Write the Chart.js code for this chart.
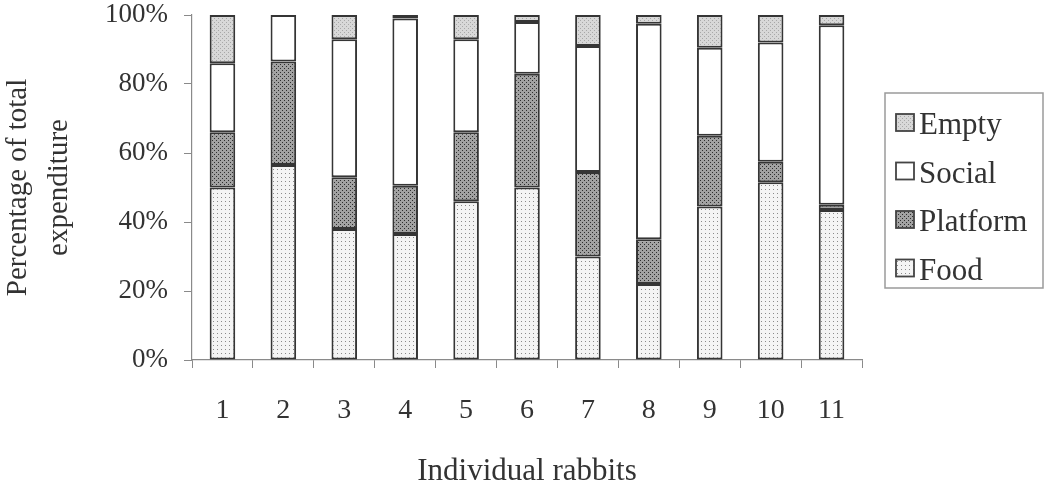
<!DOCTYPE html>
<html>
<head>
<meta charset="utf-8">
<script src="https://cdn.jsdelivr.net/npm/chart.js@4"></script>
<style>
  html,body{margin:0;padding:0;background:#fff;}
  #wrap{width:1046px;height:487px;position:relative;}
</style>
</head>
<body>
<div id="wrap"><canvas id="chart" width="1046" height="487"></canvas></div>
<script>
// data (percent of total expenditure per rabbit)
const rabbits = ['1','2','3','4','5','6','7','8','9','10','11'];
const food     = [50, 56.5, 38, 36.5, 46, 50, 30, 22, 44.5, 51.5, 43.5];
const platform = [16, 30, 15, 14, 20, 33, 24.5, 13, 20.5, 6, 1.5];
const social   = [20, 13.5, 40, 48.5, 27, 15, 36.5, 62.5, 25.5, 34.5, 52];
const empty    = [14, 0, 7, 1, 7, 2, 9, 2.5, 9.5, 8, 3];
const yTicks   = [0, 20, 40, 60, 80, 100];

const FONT = '"Liberation Serif", "Times New Roman", serif';
const TXT = '#333';

// small tiles for the dotted fills
const makePattern = (size, bg, dot, dots)=>{
  const c = document.createElement('canvas');
  c.width = size; c.height = size;
  const g = c.getContext('2d');
  g.fillStyle = bg; g.fillRect(0,0,size,size);
  g.fillStyle = dot;
  dots.forEach(d=>g.fillRect(d[0], d[1], 1, 1));
  return g.createPattern(c, 'repeat');
};
const ctx = document.getElementById('chart').getContext('2d');
const foodFill  = makePattern(4, '#f4f4f4', '#8a8a8a', [[1,1]]);
const platFill  = makePattern(4, '#a2a2a2', '#2e2e2e', [[0,0],[2,2]]);
const emptyFill = makePattern(4, '#d8d8d8', '#a8a8a8', [[0,0],[2,2]]);

const series = [
  {label:'Food', data:food, backgroundColor:foodFill},
  {label:'Platform', data:platform, backgroundColor:platFill},
  {label:'Social', data:social, backgroundColor:'#ffffff'},
  {label:'Empty', data:empty, backgroundColor:emptyFill}
];

// boxed legend on the right, top entry = top of stack
const boxLegend = {
  id:'boxLegend',
  afterDraw(chart){
    const c = chart.ctx;
    const ds = chart.data.datasets.slice().reverse();
    const bx = 885, by = 93, bw = 158, bh = 195;
    c.save();
    c.strokeStyle = '#9a9a9a';
    c.lineWidth = 1.5;
    c.strokeRect(bx, by, bw, bh);
    c.font = '31px ' + FONT;
    c.textBaseline = 'middle';
    ds.forEach((d, i)=>{
      const cy = 125 + i * 48.5;
      c.fillStyle = d.backgroundColor;
      c.fillRect(896, cy - 11, 18, 17);
      c.strokeStyle = '#444';
      c.lineWidth = 1.8;
      c.strokeRect(896, cy - 11, 18, 17);
      c.fillStyle = TXT;
      c.fillText(d.label, 919, cy + 1);
    });
    c.restore();
  }
};

new Chart(ctx, {
  type: 'bar',
  data: {
    labels: rabbits,
    datasets: series.map(s=>({
      label: s.label,
      data: s.data,
      backgroundColor: s.backgroundColor,
      borderColor: '#353535',
      borderWidth: 2,
      borderSkipped: false,
      barPercentage: 0.42,
      categoryPercentage: 1
    }))
  },
  options: {
    responsive: false,
    animation: false,
    layout: { padding: { left: 0, right: 184, top: 15, bottom: 0 } },
    plugins: { legend: { display: false }, tooltip: { enabled: false } },
    scales: {
      x: {
        stacked: true,
        grid: { display: true, drawOnChartArea: false, drawTicks: true, tickLength: 8, color: '#8a8a8a', offset: true },
        border: { display: true, color: '#8a8a8a', width: 1.2 },
        ticks: { color: TXT, font: { family: FONT, size: 28, lineHeight: 1 }, padding: 29 },
        title: { display: true, text: 'Individual rabbits', color: TXT, font: { family: FONT, size: 31, lineHeight: 1 }, padding: { top: 0, bottom: 0 } },
        afterFit(scale){ scale.height = 127; scale.paddingLeft = 0; scale.paddingRight = 0; }
      },
      y: {
        stacked: true,
        min: 0, max: 100,
        afterBuildTicks(scale){ scale.ticks = yTicks.map(v=>({value:v})); },
        grid: { display: true, drawOnChartArea: false, drawTicks: true, tickLength: 8, color: '#8a8a8a' },
        border: { display: true, color: '#8a8a8a', width: 1.2 },
        ticks: { color: TXT, font: { family: FONT, size: 27, lineHeight: 1 }, padding: 16, callback: v=>v + '%' },
        title: { display: true, text: ['Percentage of total', 'expenditure'], color: TXT, font: { family: FONT, size: 29, lineHeight: 1.4 }, padding: { top: -2, bottom: 0 } },
        afterFit(scale){ scale.width = 192; scale.paddingTop = 0; scale.paddingBottom = 0; }
      }
    }
  },
  plugins: [boxLegend]
});
</script>
</body>
</html>
